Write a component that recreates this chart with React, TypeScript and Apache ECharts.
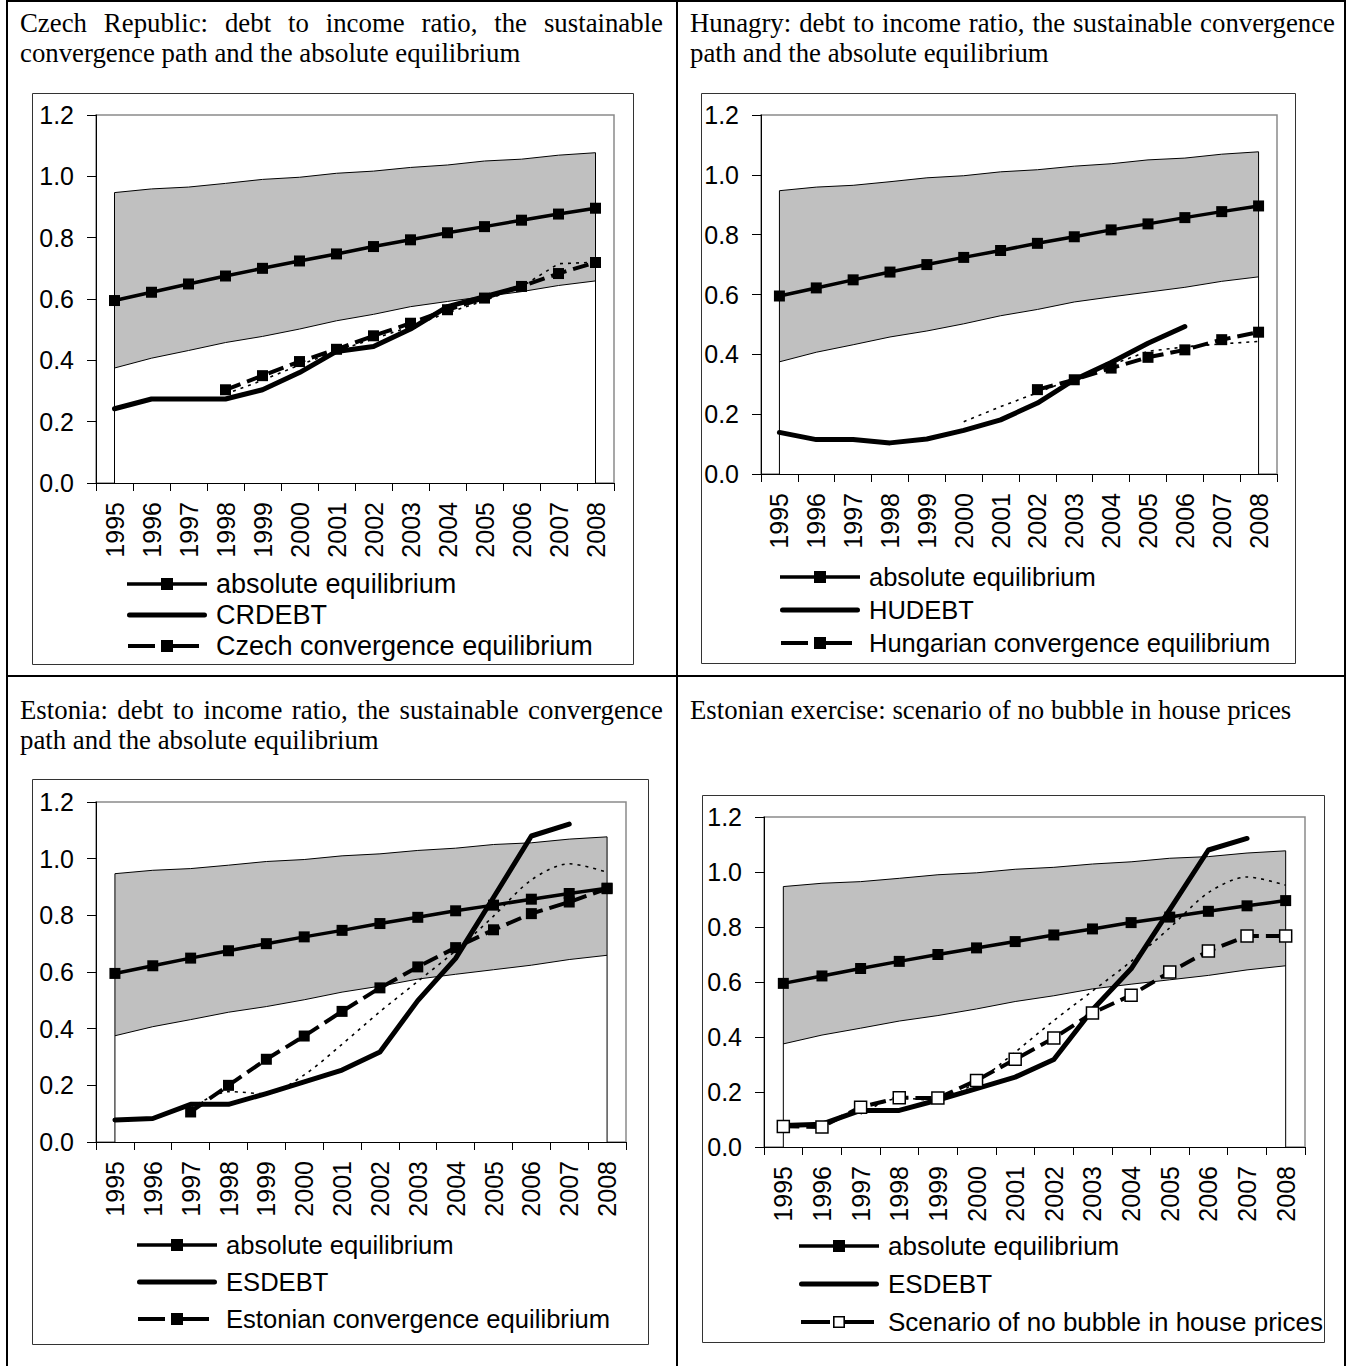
import React, { useEffect, useRef } from "react";
import * as echarts from "echarts";

// ---------- data ----------
const years = ["1995", "1996", "1997", "1998", "1999", "2000", "2001", "2002", "2003", "2004", "2005", "2006", "2007", "2008"];
const yTicks = [0, 0.2, 0.4, 0.6, 0.8, 1.0, 1.2];

const bandUpper = [0.947, 0.959, 0.965, 0.977, 0.99, 0.997, 1.01, 1.017, 1.029, 1.037, 1.05, 1.056, 1.069, 1.077];
const bandLower = [0.375, 0.407, 0.432, 0.458, 0.478, 0.502, 0.529, 0.55, 0.575, 0.592, 0.608, 0.624, 0.644, 0.659];
const absoluteEq = [0.595, 0.622, 0.649, 0.675, 0.7, 0.724, 0.747, 0.771, 0.793, 0.816, 0.836, 0.857, 0.877, 0.896];

const crDebt = [0.242, 0.274, 0.274, 0.274, 0.304, 0.36, 0.429, 0.445, 0.502, 0.575, 0.608, 0.64, null, null];
const czConv = [null, null, null, 0.304, 0.35, 0.396, 0.436, 0.48, 0.521, 0.565, 0.603, 0.641, 0.683, 0.719];
const czDotted = [null, null, null, 0.29, 0.335, 0.385, 0.43, 0.47, 0.51, 0.555, 0.595, 0.64, 0.715, 0.72];

const huDebt = [0.139, 0.115, 0.115, 0.104, 0.117, 0.146, 0.181, 0.237, 0.315, 0.373, 0.437, 0.493, null, null];
const huConv = [null, null, null, null, null, null, null, 0.282, 0.315, 0.354, 0.39, 0.415, 0.449, 0.474];
const huDotted = [null, null, null, null, null, 0.175, 0.225, 0.272, 0.32, 0.365, 0.41, 0.425, 0.435, 0.443];

const esDebt = [0.078, 0.083, 0.133, 0.133, 0.171, 0.212, 0.254, 0.318, 0.499, 0.648, 0.863, 1.08, 1.122, null];
const esConv = [null, null, 0.106, 0.2, 0.292, 0.374, 0.461, 0.544, 0.618, 0.686, 0.749, 0.806, 0.847, 0.894];
const esDotted = [null, null, 0.12, 0.178, 0.17, 0.237, 0.345, 0.46, 0.567, 0.675, 0.797, 0.925, 0.982, 0.952];
const noBubble = [0.075, 0.073, 0.145, 0.179, 0.178, 0.242, 0.319, 0.396, 0.487, 0.552, 0.636, 0.713, 0.767, 0.767];

const titles = [
  ["Czech Republic: debt to income ratio, the sustainable", "convergence path and the absolute equilibrium"],
  ["Hunagry: debt to income ratio, the sustainable convergence", "path and the absolute equilibrium"],
  ["Estonia: debt to income ratio, the sustainable convergence", "path and the absolute equilibrium"],
  ["Estonian exercise: scenario of no bubble in house prices"],
];

// ---------- styling ----------
const SANS = '"Liberation Sans", Arial, sans-serif';
const SERIF = '"Liberation Serif", "Times New Roman", serif';
const TITLE_SIZE = 26.8;

const GHOST = " M0,0H0.01V0.01H0Z M87.99,11.99H88V12H87.99Z";
const ICON_ABS = "path://M4,4.25H84V7.75H4Z M38,0H50V12H38Z" + GHOST;
const ICON_DEBT = "path://M6.5,3.5H81.5A2.5,2.5,0,0,1,81.5,8.5H6.5A2.5,2.5,0,0,1,6.5,3.5Z" + GHOST;
const ICON_CONV = "path://M5,4H32V8H5Z M38,0H50V12H38Z M50,4H76V8H50Z" + GHOST;
const ICON_OPEN = "path://M6,4H35V8H6Z M38,0H50V12H38Z M39.6,1.6V10.4H48.4V1.6Z M50,4H79V8H50Z" + GHOST;

type Panel = {
  grid: { left: number; top: number; width: number; height: number };
  box: [number, number, number, number];
  legend: { left: number; top: number; gap: number; size: number };
  debtName: string;
  debt: (number | null)[];
  convName: string;
  conv: (number | null)[];
  dotted: (number | null)[];
  smooth: boolean;
  open: boolean;
  titleX: [number, number];
  titleY: number;
};

const panels: Panel[] = [
  {
    grid: { left: 96, top: 115, width: 518, height: 368 },
    box: [32, 93, 633, 664],
    legend: { left: 123, top: 570, gap: 3, size: 27 },
    debtName: "CRDEBT", debt: crDebt,
    convName: "Czech convergence equilibrium", conv: czConv,
    dotted: czDotted, smooth: false, open: false,
    titleX: [20, 663], titleY: 23,
  },
  {
    grid: { left: 761, top: 115, width: 516, height: 359 },
    box: [701, 93, 1295, 663],
    legend: { left: 776, top: 563, gap: 5, size: 25.5 },
    debtName: "HUDEBT", debt: huDebt,
    convName: "Hungarian convergence equilibrium", conv: huConv,
    dotted: huDotted, smooth: false, open: false,
    titleX: [690, 1335], titleY: 23,
  },
  {
    grid: { left: 96, top: 802, width: 530, height: 340 },
    box: [32, 779, 648, 1344],
    legend: { left: 133, top: 1231, gap: 9, size: 25.6 },
    debtName: "ESDEBT", debt: esDebt,
    convName: "Estonian convergence equilibrium", conv: esConv,
    dotted: esDotted, smooth: true, open: false,
    titleX: [20, 663], titleY: 710,
  },
  {
    grid: { left: 764, top: 817, width: 541, height: 330 },
    box: [702, 795, 1324, 1342],
    legend: { left: 795, top: 1232, gap: 10, size: 26 },
    debtName: "ESDEBT", debt: esDebt,
    convName: "Scenario of no bubble in house prices", conv: noBubble,
    dotted: esDotted, smooth: true, open: true,
    titleX: [690, 1335], titleY: 710,
  },
];

let measureCtx: CanvasRenderingContext2D | null = null;
function measure(text: string): number {
  if (!measureCtx) {
    measureCtx = document.createElement("canvas").getContext("2d");
  }
  if (!measureCtx) return text.length * TITLE_SIZE * 0.45;
  measureCtx.font = `${TITLE_SIZE}px ${SERIF}`;
  return measureCtx.measureText(text).width;
}

function textEl(text: string, x: number, y: number) {
  return {
    type: "text",
    x,
    y,
    silent: true,
    style: {
      text,
      fontSize: TITLE_SIZE,
      fontFamily: SERIF,
      fill: "#000",
      align: "left",
      verticalAlign: "middle",
      textAlign: "left",
      textVerticalAlign: "middle",
    },
  };
}

function titleElements(lines: string[], x0: number, x1: number, y: number) {
  const els: any[] = [];
  lines.forEach((line, li) => {
    const ly = y + li * 30;
    const isLast = li === lines.length - 1;
    if (isLast) {
      els.push(textEl(line, x0, ly));
      return;
    }
    const words = line.split(" ");
    const widths = words.map(measure);
    const total = widths.reduce((a, b) => a + b, 0);
    const gap = (x1 - x0 - total) / (words.length - 1);
    let x = x0;
    words.forEach((w, i) => {
      els.push(textEl(w, x, ly));
      x += widths[i] + gap;
    });
  });
  return els;
}

function buildOption() {
  const grids: any[] = [];
  const xAxes: any[] = [];
  const yAxes: any[] = [];
  const legends: any[] = [];
  const series: any[] = [];
  const graphics: any[] = [];

  // table
  graphics.push(
    { type: "rect", silent: true, z: 0, shape: { x: 7, y: 1, width: 1338, height: 1367 }, style: { fill: "none", stroke: "#000", lineWidth: 2 } },
    { type: "line", silent: true, z: 0, shape: { x1: 677, y1: 1, x2: 677, y2: 1368 }, style: { stroke: "#000", lineWidth: 2 } },
    { type: "line", silent: true, z: 0, shape: { x1: 7, y1: 676, x2: 1345, y2: 676 }, style: { stroke: "#000", lineWidth: 2 } }
  );

  panels.forEach((p, i) => {
    const [bx0, by0, bx1, by1] = p.box;
    graphics.push({
      type: "rect", silent: true, z: 0,
      shape: { x: bx0 + 0.5, y: by0 + 0.5, width: bx1 - bx0, height: by1 - by0 },
      style: { fill: "none", stroke: "#333", lineWidth: 1 },
    });
    graphics.push(...titleElements(titles[i], p.titleX[0], p.titleX[1], p.titleY));

    grids.push({
      ...p.grid,
      show: true,
      borderColor: "#8a8a8a",
      borderWidth: 1.5,
      backgroundColor: "transparent",
      containLabel: false,
    });
    xAxes.push({
      type: "category",
      gridIndex: i,
      data: years,
      boundaryGap: true,
      z: 10,
      axisLine: { show: true, lineStyle: { color: "#000", width: 1 } },
      axisTick: { show: true, interval: 0, length: 8, lineStyle: { color: "#000", width: 1 } },
      axisLabel: { interval: 0, rotate: 90, margin: 19, fontSize: 25, fontFamily: SANS, color: "#000" },
      splitLine: { show: false },
    });
    yAxes.push({
      type: "value",
      gridIndex: i,
      min: yTicks[0],
      max: yTicks[yTicks.length - 1],
      interval: yTicks[1] - yTicks[0],
      z: 10,
      axisLine: { show: true, lineStyle: { color: "#000", width: 1 } },
      axisTick: { show: true, length: 9, lineStyle: { color: "#000", width: 1 } },
      axisLabel: { margin: 22, fontSize: 25, fontFamily: SANS, color: "#000", formatter: (v: number) => v.toFixed(1) },
      splitLine: { show: false },
    });

    const ax = { xAxisIndex: i, yAxisIndex: i, silent: true };
    const thin = { color: "#000", width: 1 };
    series.push(
      { ...ax, type: "line", name: `band upper ${i}`, data: bandUpper, symbol: "none", lineStyle: thin, areaStyle: { color: "#c0c0c0", opacity: 1 }, z: 1 },
      { ...ax, type: "line", name: `band lower ${i}`, data: bandLower, symbol: "none", lineStyle: thin, areaStyle: { color: "#ffffff", opacity: 1 }, z: 1 },
      { ...ax, type: "line", name: `band left ${i}`, data: [[0, 0], [0, bandUpper[0]]], symbol: "none", lineStyle: thin, z: 1 },
      { ...ax, type: "line", name: `band right ${i}`, data: [[years.length - 1, 0], [years.length - 1, bandUpper[years.length - 1]]], symbol: "none", lineStyle: thin, z: 1 },
      { ...ax, type: "line", name: `path ${i}`, data: p.dotted, symbol: "none", smooth: p.smooth ? 0.3 : false, lineStyle: { color: "#000", width: 1.6, type: [3, 5] }, z: 3 },
      { ...ax, type: "line", name: "absolute equilibrium", data: absoluteEq, symbol: "rect", symbolSize: 11, showAllSymbol: true, itemStyle: { color: "#000" }, lineStyle: { color: "#000", width: 3.5 }, z: 4 },
      { ...ax, type: "line", name: p.debtName, data: p.debt, symbol: "none", lineStyle: { color: "#000", width: 5, cap: "round", join: "round" }, z: 5 },
      {
        ...ax, type: "line", name: p.convName, data: p.conv, symbol: "rect", symbolSize: p.open ? 12 : 11, showAllSymbol: true,
        itemStyle: p.open ? { color: "#fff", borderColor: "#000", borderWidth: 1.5 } : { color: "#000" },
        lineStyle: { color: "#000", width: 4, type: [16, 7] }, z: 6,
      }
    );

    const item = (name: string, icon: string) => ({ name, icon, itemStyle: { color: "#000", borderWidth: 0, opacity: 1 } });
    legends.push({
      show: true,
      orient: "vertical",
      left: p.legend.left,
      top: p.legend.top,
      padding: 0,
      itemGap: p.legend.gap,
      itemWidth: 88,
      itemHeight: 12,
      selectedMode: false,
      symbolKeepAspect: true,
      textStyle: { fontSize: p.legend.size, fontFamily: SANS, color: "#000", lineHeight: 28 },
      data: [
        item("absolute equilibrium", ICON_ABS),
        item(p.debtName, ICON_DEBT),
        item(p.convName, p.open ? ICON_OPEN : ICON_CONV),
      ],
    });
  });

  return {
    animation: false,
    backgroundColor: "#ffffff",
    textStyle: { fontFamily: SANS },
    grid: grids,
    xAxis: xAxes,
    yAxis: yAxes,
    legend: legends,
    series,
    graphic: { elements: graphics },
  };
}

export default function App() {
  const ref = useRef<HTMLDivElement>(null);
  useEffect(() => {
    document.body.style.margin = "0";
    document.body.style.overflow = "hidden";
    if (!ref.current) return;
    const chart = echarts.init(ref.current, undefined, { renderer: "svg", width: 1348, height: 1366 });
    chart.setOption(buildOption() as any);
    return () => chart.dispose();
  }, []);
  return (
    <div
      ref={ref}
      style={{ position: "absolute", left: 0, top: 0, width: 1348, height: 1366, background: "#fff" }}
    />
  );
}
